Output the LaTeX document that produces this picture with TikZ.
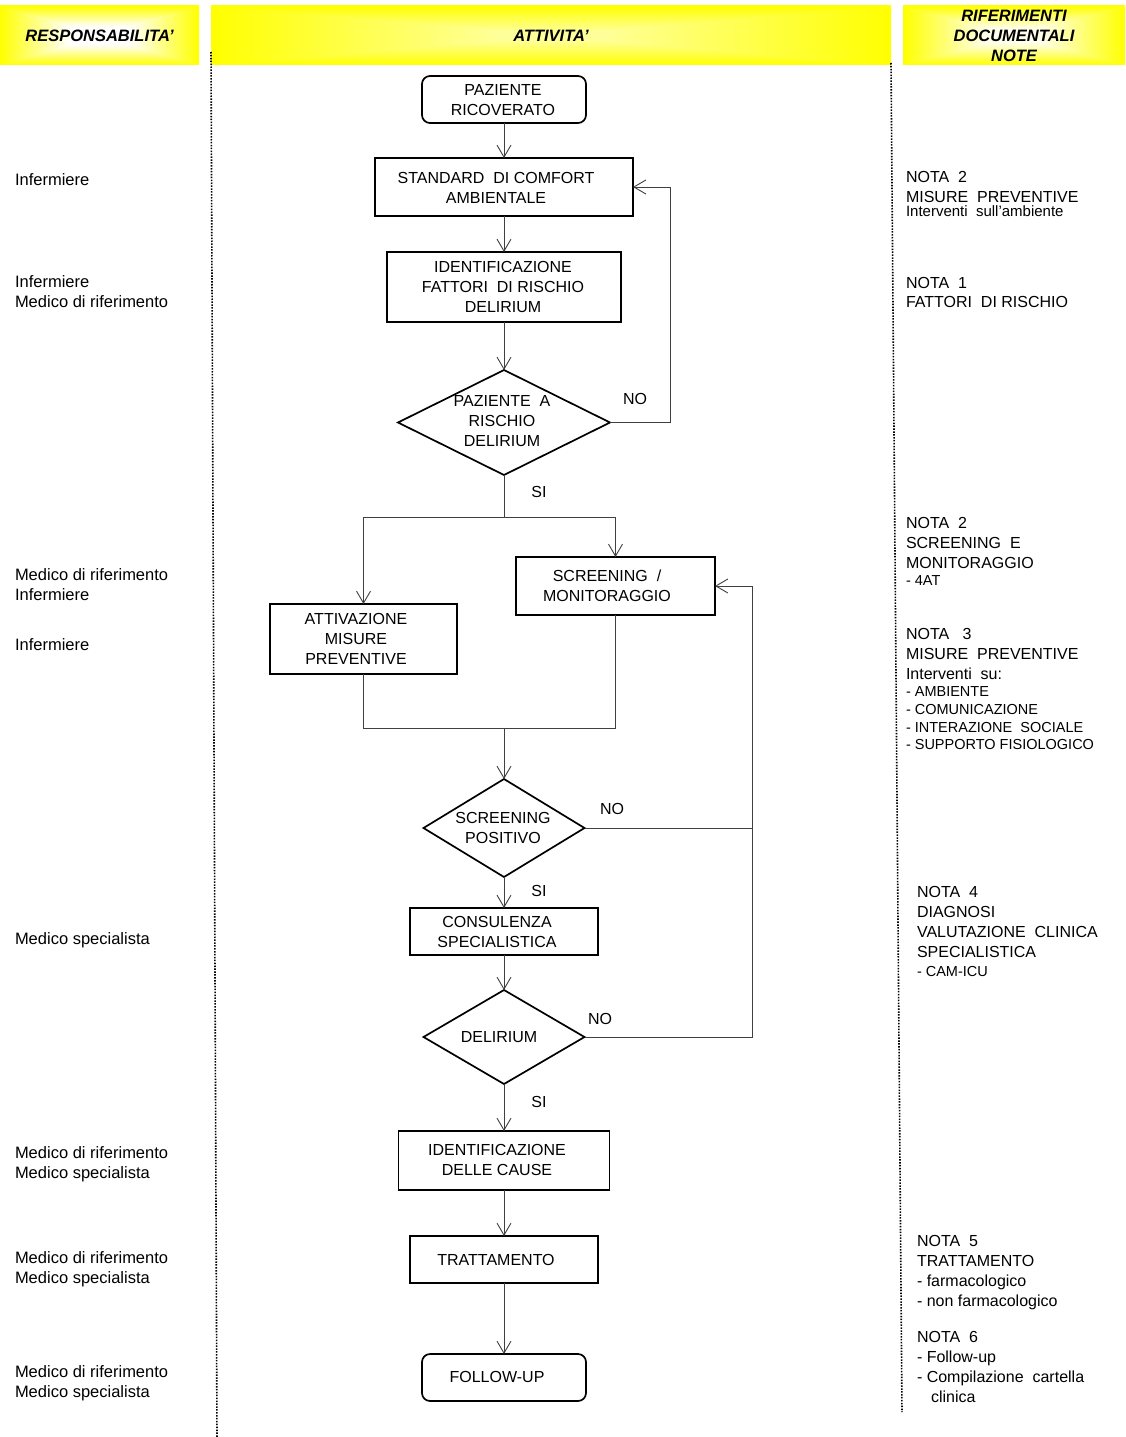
\documentclass[tikz,border=0pt]{standalone}
\usepackage{fontspec}
\setmainfont{Liberation Sans}
\usetikzlibrary{shapes.geometric,arrows.meta}
\pgfdeclarefunctionalshading{hdrL}{\pgfpoint{-50bp}{-50bp}}{\pgfpoint{50bp}{50bp}}{}{
abs exch abs 2 copy lt {exch} if pop 25 div 0.3 sub 0.7 div dup 0 lt {pop 0} if dup 1 gt {pop 1} if 1 exch sub 1 1 3 -1 roll
}
\pgfdeclarefunctionalshading{hdrM}{\pgfpoint{-50bp}{-50bp}}{\pgfpoint{50bp}{50bp}}{}{
abs exch abs 2 copy lt {exch} if pop 25 div 0.15 sub 0.85 div dup 0 lt {pop 0} if dup 1 gt {pop 1} if 1 exch sub 0.6 mul 1 1 3 -1 roll
}
\pgfdeclarefunctionalshading{hdrR}{\pgfpoint{-50bp}{-50bp}}{\pgfpoint{50bp}{50bp}}{}{
abs exch abs 2 copy lt {exch} if pop 25 div 0.25 sub 0.75 div dup 0 lt {pop 0} if dup 1 gt {pop 1} if 1 exch sub 0.92 mul 1 1 3 -1 roll
}
\begin{document}
\begin{tikzpicture}[x=1pt,y=-1pt,
  every node/.style={inner sep=0pt, outer sep=0pt, font=\fontsize{16}{20}\selectfont},
  hdr/.style={shade, shading=#1, draw=none, font=\fontsize{16.5}{20}\selectfont\bfseries\itshape, align=center},
  proc/.style={draw=black, line width=1.7pt, rectangle},
  term/.style={proc, rounded corners=8pt},
  dec/.style={draw=black, line width=1.7pt, diamond},
  txt/.style={align=center, text=black},
  lab/.style={anchor=base west, text=black},
  rsp/.style={anchor=base west, text=black, font=\fontsize{16.5}{20}\selectfont},
  sml/.style={anchor=base west, text=black, font=\fontsize{14.5}{18}\selectfont},
  line/.style={draw=black!75, line width=0.9pt},
  conn/.style={line, -{Straight Barb[length=12pt,width=14pt]}},
  sep/.style={draw=black, line width=1.6pt, dash pattern=on 1.5pt off 1.4pt}
]
\useasboundingbox (0,0) rectangle (1125,1437);

% headers
\node[hdr=hdrL, minimum width=199pt, minimum height=59pt] (hL) at (99.5,35.5) {RESPONSABILITA’};
\node[hdr=hdrM, minimum width=680pt, minimum height=59pt] (hM) at (551,35.5) {ATTIVITA’};
\node[hdr=hdrR, minimum width=222pt, minimum height=59pt] (hR) at (1014,35.5) {RIFERIMENTI\\DOCUMENTALI\\NOTE};

% column separators
\coordinate (dl1) at (211,52);
\coordinate (dl2) at (217,1437);
\coordinate (dr1) at (891,63);
\coordinate (dr2) at (902,1412);
\draw[sep] (dl1) -- (dl2);
\draw[sep] (dr1) -- (dr2);

% flowchart shapes
\node[term, minimum width=164pt, minimum height=47pt] (pr) at (504,99.5) {};
\node[proc, minimum width=258pt, minimum height=58pt] (std) at (504,187) {};
\node[proc, minimum width=234pt, minimum height=70pt] (idf) at (504,287) {};
\node[dec, minimum width=212pt, minimum height=105pt] (d1) at (504,422.5) {};
\node[proc, minimum width=187pt, minimum height=70pt] (att) at (363.5,639) {};
\node[proc, minimum width=199pt, minimum height=58pt] (scr) at (615.5,586) {};
\node[dec, minimum width=161pt, minimum height=98pt] (d2) at (504,828) {};
\node[proc, minimum width=188pt, minimum height=47pt] (cons) at (504,931.5) {};
\node[dec, minimum width=161pt, minimum height=94pt] (d3) at (504,1037) {};
\node[proc, minimum width=211pt, minimum height=59pt] (cause) at (504,1160.5) {};
\node[proc, minimum width=188pt, minimum height=47pt] (tratt) at (504,1259.5) {};
\node[term, minimum width=164pt, minimum height=47pt] (fu) at (504,1377.5) {};

% flowchart texts
\node[txt] (prt) at (503,100) {PAZIENTE\\RICOVERATO};
\node[txt] (stdt) at (496,188) {STANDARD\ \ DI COMFORT\\AMBIENTALE};
\node[txt] (idft) at (503,287) {IDENTIFICAZIONE\\FATTORI\ \ DI RISCHIO\\DELIRIUM};
\node[txt] (d1t) at (502,421) {PAZIENTE\ \ A\\RISCHIO\\DELIRIUM};
\node[txt] (attt) at (356,639) {ATTIVAZIONE\\MISURE\\PREVENTIVE};
\node[txt] (scrt) at (607,586) {SCREENING\ \ /\\MONITORAGGIO};
\node[txt] (d2t) at (503,828) {SCREENING\\POSITIVO};
\node[txt] (const) at (497,932) {CONSULENZA\\SPECIALISTICA};
\node[txt] (d3t) at (499,1037) {DELIRIUM};
\node[txt] (causet) at (497,1160) {IDENTIFICAZIONE\\DELLE CAUSE};
\node[txt] (trattt) at (496,1260) {TRATTAMENTO};
\node[txt] (fut) at (497,1377) {FOLLOW-UP};

% branch labels
\node[txt] (no1) at (635,399) {NO};
\node[txt] (si1) at (539,492) {SI};
\node[txt] (no2) at (612,809) {NO};
\node[txt] (si2) at (539,891) {SI};
\node[txt] (no3) at (600,1019) {NO};
\node[txt] (si3) at (539,1102) {SI};

% connectors
\draw[conn] (pr.south) -- (std.north);
\draw[conn] (std.south) -- (idf.north);
\draw[conn] (idf.south) -- (d1.north);
\coordinate (loop1) at (670,422.5);
\draw[conn] (d1.east) -- (loop1) |- (std.east);
\coordinate (split) at (504,517);
\draw[line] (d1.south) -- (split);
\draw[conn] (split) -| (att.north);
\draw[conn] (split) -| (scr.north);
\coordinate (merge) at (504,728);
\draw[line] (att.south) |- (merge);
\draw[line] (scr.south) |- (merge);
\draw[conn] (merge) -- (d2.north);
\draw[conn] (d2.south) -- (cons.north);
\draw[conn] (cons.south) -- (d3.north);
\coordinate (rail) at (752,1037);
\draw[line] (d2.east) -- (d2.east -| rail);
\draw[conn] (d3.east) -- (rail) |- (scr.east);
\draw[conn] (d3.south) -- (cause.north);
\draw[conn] (cause.south) -- (tratt.north);
\draw[conn] (tratt.south) -- (fu.north);

% responsibility column
\node[rsp] (r1) at (15,185) {Infermiere};
\node[rsp] (r2) at (15,287) {Infermiere};
\node[rsp] (r3) at (15,307) {Medico di riferimento};
\node[rsp] (r4) at (15,580) {Medico di riferimento};
\node[rsp] (r5) at (15,600) {Infermiere};
\node[rsp] (r6) at (15,650) {Infermiere};
\node[rsp] (r7) at (15,944) {Medico specialista};
\node[rsp] (r8) at (15,1158) {Medico di riferimento};
\node[rsp] (r9) at (15,1178) {Medico specialista};
\node[rsp] (r10) at (15,1263) {Medico di riferimento};
\node[rsp] (r11) at (15,1283) {Medico specialista};
\node[rsp] (r12) at (15,1377) {Medico di riferimento};
\node[rsp] (r13) at (15,1397) {Medico specialista};

% notes column
\node[lab] (n1) at (906,182) {NOTA\ \ 2};
\node[lab] (n2) at (906,202) {MISURE\ \ PREVENTIVE};
\node[lab, font=\fontsize{15}{18}\selectfont] (n3) at (906,216.5) {Interventi\ \ sull’ambiente};
\node[lab] (n4) at (906,288) {NOTA\ \ 1};
\node[lab] (n5) at (906,307) {FATTORI\ \ DI RISCHIO};
\node[lab] (n6) at (906,528) {NOTA\ \ 2};
\node[lab] (n7) at (906,548) {SCREENING\ \ E};
\node[lab] (n8) at (906,568) {MONITORAGGIO};
\node[sml] (n9) at (906,585) {- 4AT};
\node[lab] (n10) at (906,639) {NOTA\ \ \ 3};
\node[lab] (n11) at (906,659) {MISURE\ \ PREVENTIVE};
\node[lab] (n12) at (906,679) {Interventi\ \ su:};
\node[sml] (n13) at (906,696) {- AMBIENTE};
\node[sml] (n14) at (906,714) {- COMUNICAZIONE};
\node[sml] (n15) at (906,732) {- INTERAZIONE\ \ SOCIALE};
\node[sml] (n16) at (906,749) {- SUPPORTO FISIOLOGICO};
\node[lab] (n17) at (917,897) {NOTA\ \ 4};
\node[lab] (n18) at (917,917) {DIAGNOSI};
\node[lab] (n19) at (917,937) {VALUTAZIONE\ \ CLINICA};
\node[lab] (n20) at (917,957) {SPECIALISTICA};
\node[sml] (n21) at (917,976) {- CAM-ICU};
\node[lab] (n22) at (917,1246) {NOTA\ \ 5};
\node[lab] (n23) at (917,1266) {TRATTAMENTO};
\node[lab] (n24) at (917,1286) {- farmacologico};
\node[lab] (n25) at (917,1306) {- non farmacologico};
\node[lab] (n26) at (917,1342) {NOTA\ \ 6};
\node[lab] (n27) at (917,1362) {- Follow-up};
\node[lab] (n28) at (917,1382) {- Compilazione\ \ cartella};
\node[lab] (n29) at (931,1402) {clinica};
\end{tikzpicture}
\end{document}
